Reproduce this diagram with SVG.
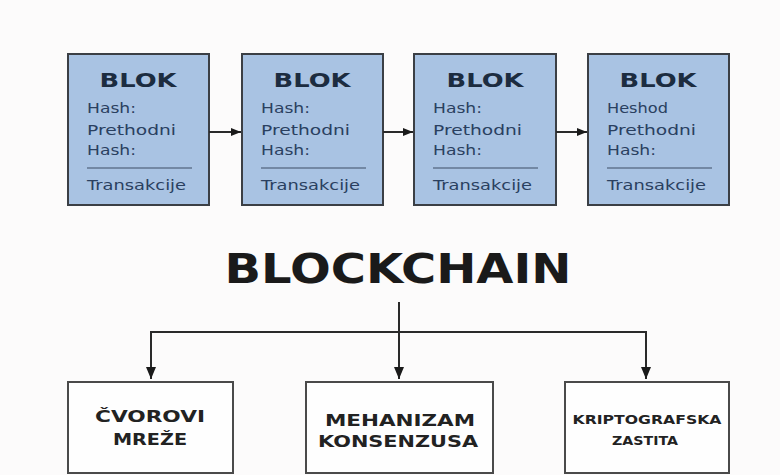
<svg xmlns="http://www.w3.org/2000/svg" width="780" height="475" viewBox="0 0 780 475">
<style>
.blk{fill:#a9c3e3;stroke:#3b3f45;stroke-width:2}
.box{fill:#fefefe;stroke:#4a4a4a;stroke-width:2}
.ttl{font-family:"DejaVu Sans",sans-serif;font-weight:bold;font-size:19px;fill:#1c2c40;text-anchor:middle}
.fld{font-family:"DejaVu Sans",sans-serif;font-size:13.5px;fill:#2a4060}
.sep{stroke:#3e4f66;stroke-width:1.2}
.main{font-family:"DejaVu Sans",sans-serif;font-weight:bold;font-size:40px;fill:#1a1a1a;text-anchor:middle}
.lbl{font-family:"DejaVu Sans",sans-serif;font-weight:bold;font-size:16px;fill:#222;text-anchor:middle}
.lbls{font-family:"DejaVu Sans",sans-serif;font-weight:bold;font-size:13px;fill:#222;text-anchor:middle}
.con{stroke:#2a2a2a;stroke-width:2;fill:none}
</style>
<defs>
<marker id="ah" markerUnits="userSpaceOnUse" markerWidth="12" markerHeight="10" refX="12" refY="5" orient="auto">
<path d="M0,0 L12,5 L0,10 Z" fill="#1a1a1a"/>
</marker>
<marker id="ahs" markerUnits="userSpaceOnUse" markerWidth="10" markerHeight="8" refX="10" refY="4" orient="auto">
<path d="M0,0 L10,4 L0,8 Z" fill="#1a1a1a"/>
</marker>
</defs>
<rect width="780" height="475" fill="#fcfbfb"/>

<g id="blok1">
<rect class="blk" x="68" y="54" width="141" height="151"/>
<text class="ttl" x="138" y="87" textLength="77" lengthAdjust="spacingAndGlyphs">BLOK</text>
<text class="fld" x="87" y="113" textLength="49" lengthAdjust="spacingAndGlyphs">Hash:</text>
<text class="fld" x="87" y="135" textLength="89" lengthAdjust="spacingAndGlyphs">Prethodni</text>
<text class="fld" x="87" y="155" textLength="49" lengthAdjust="spacingAndGlyphs">Hash:</text>
<line class="sep" x1="87" y1="168" x2="192" y2="168"/>
<text class="fld" x="87" y="190" textLength="99" lengthAdjust="spacingAndGlyphs">Transakcije</text>
</g>
<g id="blok2">
<rect class="blk" x="242" y="54" width="141" height="151"/>
<text class="ttl" x="312" y="87" textLength="77" lengthAdjust="spacingAndGlyphs">BLOK</text>
<text class="fld" x="261" y="113" textLength="49" lengthAdjust="spacingAndGlyphs">Hash:</text>
<text class="fld" x="261" y="135" textLength="89" lengthAdjust="spacingAndGlyphs">Prethodni</text>
<text class="fld" x="261" y="155" textLength="49" lengthAdjust="spacingAndGlyphs">Hash:</text>
<line class="sep" x1="261" y1="168" x2="366" y2="168"/>
<text class="fld" x="261" y="190" textLength="99" lengthAdjust="spacingAndGlyphs">Transakcije</text>
</g>
<g id="blok3">
<rect class="blk" x="414" y="54" width="142" height="151"/>
<text class="ttl" x="485" y="87" textLength="77" lengthAdjust="spacingAndGlyphs">BLOK</text>
<text class="fld" x="433" y="113" textLength="49" lengthAdjust="spacingAndGlyphs">Hash:</text>
<text class="fld" x="433" y="135" textLength="89" lengthAdjust="spacingAndGlyphs">Prethodni</text>
<text class="fld" x="433" y="155" textLength="49" lengthAdjust="spacingAndGlyphs">Hash:</text>
<line class="sep" x1="433" y1="168" x2="538" y2="168"/>
<text class="fld" x="433" y="190" textLength="99" lengthAdjust="spacingAndGlyphs">Transakcije</text>
</g>
<g id="blok4">
<rect class="blk" x="588" y="54" width="141" height="151"/>
<text class="ttl" x="658" y="87" textLength="77" lengthAdjust="spacingAndGlyphs">BLOK</text>
<text class="fld" x="607" y="113" textLength="61" lengthAdjust="spacingAndGlyphs">Heshod</text>
<text class="fld" x="607" y="135" textLength="89" lengthAdjust="spacingAndGlyphs">Prethodni</text>
<text class="fld" x="607" y="155" textLength="49" lengthAdjust="spacingAndGlyphs">Hash:</text>
<line class="sep" x1="607" y1="168" x2="712" y2="168"/>
<text class="fld" x="607" y="190" textLength="99" lengthAdjust="spacingAndGlyphs">Transakcije</text>
</g>

<g id="naslov">
<text class="main" x="398" y="283" textLength="347" lengthAdjust="spacingAndGlyphs">BLOCKCHAIN</text>
</g>

<g id="cvorovi">
<rect class="box" x="68" y="382" width="165" height="91"/>
<text class="lbl" x="150" y="422" textLength="110" lengthAdjust="spacingAndGlyphs">ČVOROVI</text>
<text class="lbl" x="150" y="445" textLength="74" lengthAdjust="spacingAndGlyphs">MREŽE</text>
</g>
<g id="mehanizam">
<rect class="box" x="306" y="382" width="187" height="91"/>
<text class="lbl" x="400" y="426" textLength="150" lengthAdjust="spacingAndGlyphs">MEHANIZAM</text>
<text class="lbl" x="398" y="447" textLength="160" lengthAdjust="spacingAndGlyphs">KONSENZUSA</text>
</g>
<g id="kripto">
<rect class="box" x="565" y="382" width="164" height="91"/>
<text class="lbls" x="647" y="424" textLength="149" lengthAdjust="spacingAndGlyphs">KRIPTOGRAFSKA</text>
<text class="lbls" x="645" y="445" textLength="66" lengthAdjust="spacingAndGlyphs">ZASTITA</text>
</g>

<g id="connectors">
<line class="con" x1="209" y1="132" x2="241" y2="132" marker-end="url(#ahs)"/>
<line class="con" x1="383" y1="132" x2="413" y2="132" marker-end="url(#ahs)"/>
<line class="con" x1="556" y1="132" x2="587" y2="132" marker-end="url(#ahs)"/>
<line class="con" x1="399" y1="302" x2="399" y2="379" marker-end="url(#ah)"/>
<polyline class="con" points="151,379 151,332 646,332 646,379"/>
<line class="con" x1="151" y1="340" x2="151" y2="379" marker-end="url(#ah)"/>
<line class="con" x1="646" y1="340" x2="646" y2="379" marker-end="url(#ah)"/>
</g>
</svg>
